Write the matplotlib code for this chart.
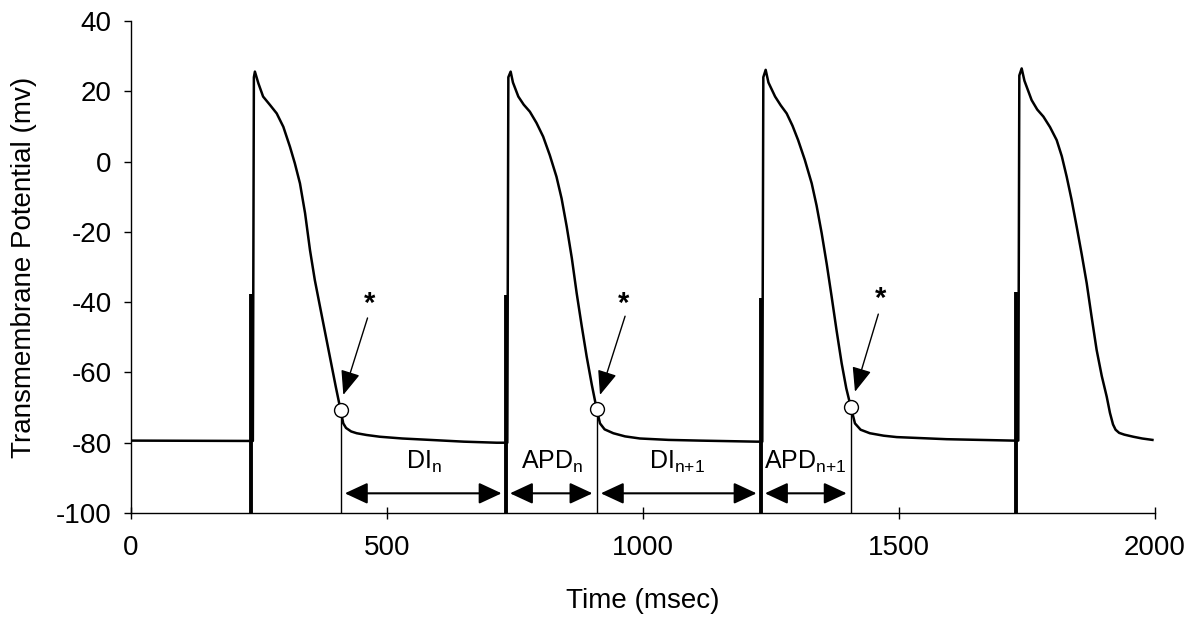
import matplotlib
matplotlib.use('Agg')
import matplotlib.pyplot as plt
import numpy as np

plt.rcParams['font.family'] = ['Liberation Sans', 'DejaVu Sans']
plt.rcParams['mathtext.default'] = 'regular'
plt.rcParams['axes.unicode_minus'] = False

# ---- trace data (time in msec, transmembrane potential in mV) ----
rest_t = [0, 238]
rest_v = [-79.4, -79.5]

ap1_t = [240, 242, 248.7, 258, 271.5, 284.6, 297.5, 310.5, 320, 330, 340, 349.6, 359, 370,
         380, 390, 400, 409.5, 414.6, 420, 430, 440.8, 460, 486, 530, 584, 650, 714, 735]
ap1_v = [24.0, 25.6, 22.3, 18.5, 16.1, 13.7, 9.9, 4.2, -0.5, -6.2, -14.7, -25.2, -33.7, -41.9,
         -49.3, -56.7, -64.1, -70.8, -74.5, -75.8, -76.8, -77.3, -77.8, -78.3, -78.8, -79.2,
         -79.7, -80.0, -80.0]

ap2_t = [737, 741.5, 746, 756.5, 767, 779, 792, 805, 818, 831, 841, 851, 861, 870.5, 880,
         890, 900, 909.5, 916, 925, 942, 965, 994, 1050, 1111, 1222, 1233]
ap2_v = [24.0, 25.6, 22.5, 18.5, 16.2, 14.2, 11.0, 7.1, 1.8, -4.3, -10.5, -18.5, -27.5, -37.5,
         -46.5, -55.5, -63.5, -70.4, -74.5, -76.2, -77.3, -78.2, -78.8, -79.2, -79.4, -79.7,
         -79.7]

ap3_t = [1235, 1239.6, 1245, 1258, 1269, 1280.6, 1292, 1303, 1316, 1329.5, 1339, 1349, 1359,
         1368.5, 1378, 1388, 1397, 1406, 1414, 1425, 1443, 1470, 1495.5, 1593, 1723, 1733]
ap3_v = [24.0, 26.1, 22.5, 18.5, 16.0, 13.7, 10.2, 6.1, 0.5, -6.2, -12.5, -20.4, -29.3, -38.5,
         -48.0, -57.4, -64.5, -69.9, -74.5, -76.3, -77.3, -78.0, -78.4, -79.0, -79.4, -79.4]

ap4_t = [1735, 1739.6, 1745, 1759, 1770, 1782, 1795, 1808, 1818, 1827.5, 1837, 1847, 1857,
         1866.6, 1876, 1886, 1896, 1905.7, 1912, 1918, 1923, 1930, 1940, 1957.6, 1975, 1995]
ap4_v = [24.5, 26.5, 23.0, 17.5, 14.8, 12.8, 9.8, 6.1, 1.5, -4.3, -10.8, -18.5, -26.5, -34.6,
         -44.0, -53.6, -61.0, -66.9, -71.5, -74.8, -76.3, -77.2, -77.7, -78.3, -78.8, -79.2]

# stimulus artifacts
stim_times = [234, 732, 1230, 1729]
stim_tops = [-37.8, -38.0, -38.8, -37.2]

# end of action potential markers
apd_end_times = [409.5, 909.5, 1406]
apd_end_mv = [-70.8, -70.4, -69.9]

# interval arrows and labels
interval_bounds = [409.5, 732, 909.5, 1230, 1406]
interval_labels = ['DI$_{n}$', 'APD$_{n}$', 'DI$_{n{+}1}$', 'APD$_{n{+}1}$']
interval_label_times = [573, 823, 1066, 1316]
arrow_mv = -94.4
label_mv = -85.6

# asterisks with pointer arrows
star_times = [466, 962, 1464]
star_mv = [-42.8, -42.8, -41.4]
pointer_start_t = [462, 965, 1459.6]
pointer_start_mv = [-44.5, -44.0, -43.4]
pointer_tip_t = [414.7, 916, 1414]
pointer_tip_mv = [-66.4, -66.4, -65.5]

x_ticks = [0, 500, 1000, 1500, 2000]
y_ticks = [-100, -80, -60, -40, -20, 0, 20, 40]

# ---- figure ----
fig = plt.figure(figsize=(11.95, 6.19), dpi=100)
ax = fig.add_axes([131 / 1195, 1 - 513 / 619, 1024 / 1195, 492 / 619])

t = np.array(rest_t + ap1_t + ap2_t + ap3_t + ap4_t)
v = np.array(rest_v + ap1_v + ap2_v + ap3_v + ap4_v)
ax.plot(t, v, color='black', lw=1.8, solid_joinstyle='round', zorder=3)

ax.vlines(stim_times, -100, stim_tops, color='black', lw=2.8, zorder=3)
ax.vlines(apd_end_times, -100, apd_end_mv, color='black', lw=1.0, zorder=2)
ax.plot(apd_end_times, apd_end_mv, 'o', ms=10, mfc='white', mec='black', mew=1.0, zorder=5)

for i in range(len(interval_labels)):
    ax.annotate('', xy=(interval_bounds[i + 1], arrow_mv), xytext=(interval_bounds[i], arrow_mv),
                arrowprops=dict(arrowstyle='<|-|>,head_length=1.4,head_width=0.65',
                                mutation_scale=10, lw=1.5, color='black',
                                shrinkA=3, shrinkB=3))
    ax.text(interval_label_times[i], label_mv, interval_labels[i], fontsize=18,
            ha='center', va='center')

for i in range(len(star_times)):
    ax.text(star_times[i], star_mv[i], '*', fontsize=21, fontweight='bold',
            ha='center', va='baseline')
    ax.annotate('', xy=(pointer_tip_t[i], pointer_tip_mv[i]),
                xytext=(pointer_start_t[i], pointer_start_mv[i]),
                arrowprops=dict(arrowstyle='-|>,head_length=1.5,head_width=0.6',
                                mutation_scale=10, lw=1.0, color='black',
                                shrinkA=0, shrinkB=0))

ax.set_xlim(0, 2000)
ax.set_ylim(-100, 40)
ax.set_xticks(x_ticks)
ax.set_yticks(y_ticks)
ax.spines['top'].set_visible(False)
ax.spines['right'].set_visible(False)
ax.spines['left'].set_linewidth(1.0)
ax.spines['bottom'].set_linewidth(1.0)
ax.tick_params(axis='x', direction='inout', length=8, width=1.0, pad=12, labelsize=20)
ax.tick_params(axis='y', direction='out', length=5, width=1.0, pad=9, labelsize=20)

ax.set_xlabel('Time (msec)', fontsize=20)
ax.set_ylabel('Transmembrane Potential (mv)', fontsize=20)
ax.xaxis.set_label_coords(0.5, -0.152)
ax.yaxis.set_label_coords(-0.092, 0.5)

fig.savefig('out.png', dpi=100)
